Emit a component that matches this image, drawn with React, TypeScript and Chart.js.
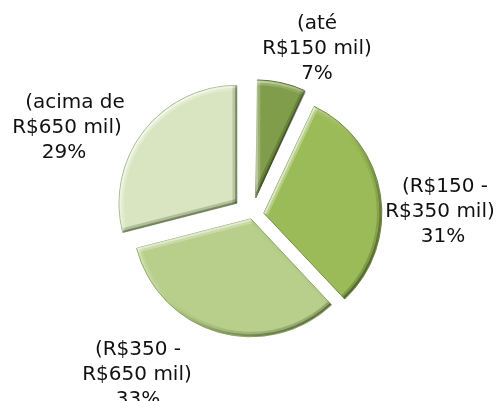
import React, { useEffect, useRef } from "react";
import { Chart, registerables } from "chart.js";

Chart.register(...registerables);

// ---- data ----
const categories = [
  "(até R$150 mil)",
  "(R$150 - R$350 mil)",
  "(R$350 - R$650 mil)",
  "(acima de R$650 mil)",
];
const labelLines = [
  ["(até", "R$150 mil)"],
  ["(R$150 -", "R$350 mil)"],
  ["(R$350 -", "R$650 mil)"],
  ["(acima de", "R$650 mil)"],
];
const values = [7, 31, 33, 29];

// ---- styles ----
const RADIUS = 118;
const sliceColors = ["#7f9d4a", "#9bbb59", "#b8cf8c", "#d8e5c0"];
const sliceBorders = ["#5f7735", "#6f8a3e", "#8ea766", "#a8b893"];
const explodePx = [17.5, 12, 4, 19];
const labelAnchors = [
  [317, 24],
  [443, 187],
  [138, 350],
  [68, 103],
];
const labelDx = [
  [0, 0, 0],
  [2, -3, 0],
  [0, -1, 0],
  [7, -1, -4],
];
const LINE_H = 25;

function shade(k: number, a: number) {
  if (k >= 0) return `rgba(255,255,255,${(0.85 * k * a).toFixed(3)})`;
  return `rgba(35,48,12,${(0.7 * -k * a).toFixed(3)})`;
}

const radiusFix = {
  id: "radiusFix",
  beforeDatasetDraw(chart: any, args: any) {
    const meta = chart.getDatasetMeta(args.index);
    meta.data.forEach((el: any) => {
      const off = (el.options.offset || 0) / 4;
      const circ = el.endAngle - el.startAngle;
      const fix = 1 - Math.sin(Math.min(Math.PI, circ));
      el.outerRadius = RADIUS - off * fix;
    });
  },
};

const bevel = {
  id: "bevel",
  afterDatasetDraw(chart: any, args: any) {
    const ctx: CanvasRenderingContext2D = chart.ctx;
    const meta = chart.getDatasetMeta(args.index);
    meta.data.forEach((el: any) => {
      const off = (el.options.offset || 0) / 4;
      const s = el.startAngle;
      const e = el.endAngle;
      const half = (s + e) / 2;
      const cx = el.x + Math.cos(half) * off;
      const cy = el.y + Math.sin(half) * off;
      const r = RADIUS - 0.5;
      ctx.save();
      ctx.beginPath();
      ctx.moveTo(cx, cy);
      ctx.arc(cx, cy, r, s, e);
      ctx.closePath();
      ctx.clip();
      const passes: [number, number][] = [
        [9, 0.35],
        [4, 0.65],
      ];
      passes.forEach(([w, a]) => {
        const g = (ctx as any).createConicGradient(0, cx, cy);
        for (let i = 0; i <= 72; i++) {
          const f = i / 72;
          const phi = f * 2 * Math.PI;
          g.addColorStop(f, shade(-(Math.cos(phi) + Math.sin(phi)) / Math.SQRT2, a));
        }
        ctx.lineWidth = w;
        ctx.strokeStyle = g;
        ctx.beginPath();
        ctx.arc(cx, cy, r, s, e);
        ctx.stroke();
        const edge = (ang: number, nx: number, ny: number) => {
          const k = -(nx + ny) / Math.SQRT2;
          ctx.strokeStyle = shade(k, a);
          ctx.beginPath();
          ctx.moveTo(cx, cy);
          ctx.lineTo(cx + r * Math.cos(ang), cy + r * Math.sin(ang));
          ctx.stroke();
        };
        edge(s, Math.sin(s), -Math.cos(s));
        edge(e, -Math.sin(e), Math.cos(e));
      });
      ctx.restore();
    });
  },
};

const outsideLabels = {
  id: "outsideLabels",
  afterDraw(chart: any) {
    const ctx: CanvasRenderingContext2D = chart.ctx;
    ctx.save();
    ctx.font = '20px "DejaVu Sans"';
    ctx.fillStyle = "#111111";
    ctx.textAlign = "center";
    ctx.textBaseline = "middle";
    labelLines.forEach((lines, i) => {
      const all = [...lines, `${values[i]}%`];
      all.forEach((t, j) => {
        ctx.fillText(t, labelAnchors[i][0] + labelDx[i][j], labelAnchors[i][1] + j * LINE_H);
      });
    });
    ctx.restore();
  },
};

export default function App() {
  const ref = useRef<HTMLCanvasElement | null>(null);
  useEffect(() => {
    if (!ref.current) return;
    const chart = new Chart(ref.current, {
      type: "pie",
      data: {
        labels: categories,
        datasets: [
          {
            data: values,
            backgroundColor: sliceColors,
            borderColor: sliceBorders,
            borderWidth: 1,
            offset: explodePx.map((d) => d * 4),
            hoverOffset: 0,
          },
        ],
      },
      options: {
        animation: false,
        responsive: true,
        maintainAspectRatio: false,
        radius: RADIUS,
        layout: { padding: { left: 6, right: 0, top: 29, bottom: 0 } },
        plugins: {
          legend: { display: false },
          tooltip: { enabled: false },
        },
        events: [],
      } as any,
      plugins: [radiusFix, bevel, outsideLabels],
    });
    return () => chart.destroy();
  }, []);
  return (
    <div style={{ position: "absolute", left: 0, top: 0, width: 498, height: 401, background: "#fff" }}>
      <canvas ref={ref} />
    </div>
  );
}
